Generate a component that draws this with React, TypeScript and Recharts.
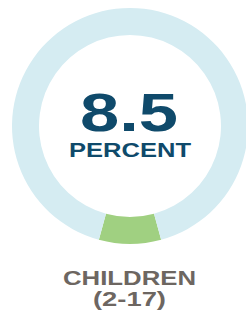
import React from "react";
import { PieChart, Pie, Cell, Label } from "recharts";

const categories = ["Children (2-17)", "Other"];
const shareValues = [8.5, 91.5];
const centerValueLabel = "8.5";
const centerUnitLabel = "PERCENT";
const groupLabel = "CHILDREN";
const ageLabel = "(2-17)";

const colors = ["#a0d081", "#d5ecf2"];

const data = categories.map((name, i) => ({ name, value: shareValues[i] }));

const total = shareValues.reduce((a, b) => a + b, 0);
const startAngle = -90 - (shareValues[0] / total) * 360 / 2;
const endAngle = startAngle + 360;

const font = "'Liberation Sans', Arial, sans-serif";

const CenterContent = (props: any) => {
  const vb = props.viewBox || {};
  const cx = vb.cx ?? 130;
  const cy = vb.cy ?? 126;
  return (
    <g>
      <text
        x={cx - 1}
        y={cy + 5}
        textAnchor="middle"
        fontFamily={font}
        fontWeight={700}
        fontSize={53}
        fill="#0f4a6b"
        textLength={98}
        lengthAdjust="spacingAndGlyphs"
      >
        {centerValueLabel}
      </text>
      <text
        x={cx}
        y={cy + 31}
        textAnchor="middle"
        fontFamily={font}
        fontWeight={700}
        fontSize={20}
        fill="#0f4a6b"
        textLength={122}
        lengthAdjust="spacingAndGlyphs"
      >
        {centerUnitLabel}
      </text>
      <text
        x={cx - 0.5}
        y={cy + 158.5}
        textAnchor="middle"
        fontFamily={font}
        fontWeight={700}
        fontSize={21}
        fill="#6d6661"
        textLength={133}
        lengthAdjust="spacingAndGlyphs"
      >
        {groupLabel}
      </text>
      <text
        x={cx - 0.5}
        y={cy + 180}
        textAnchor="middle"
        fontFamily={font}
        fontWeight={700}
        fontSize={21}
        fill="#6d6661"
        textLength={73}
        lengthAdjust="spacingAndGlyphs"
      >
        {ageLabel}
      </text>
    </g>
  );
};

export default function App() {
  return (
    <div style={{ position: "absolute", left: 0, top: 0, width: 246, height: 315, background: "#fff" }}>
      <PieChart width={246} height={315} margin={{ top: 0, right: 0, bottom: 0, left: 0 }}>
        <Pie
          data={data}
          dataKey="value"
          nameKey="name"
          cx={130}
          cy={126}
          innerRadius={91}
          outerRadius={118}
          startAngle={startAngle}
          endAngle={endAngle}
          stroke="none"
          isAnimationActive={false}
        >
          {data.map((d, i) => (
            <Cell key={d.name} fill={colors[i]} />
          ))}
          <Label position="center" content={<CenterContent />} />
        </Pie>
      </PieChart>
    </div>
  );
}
